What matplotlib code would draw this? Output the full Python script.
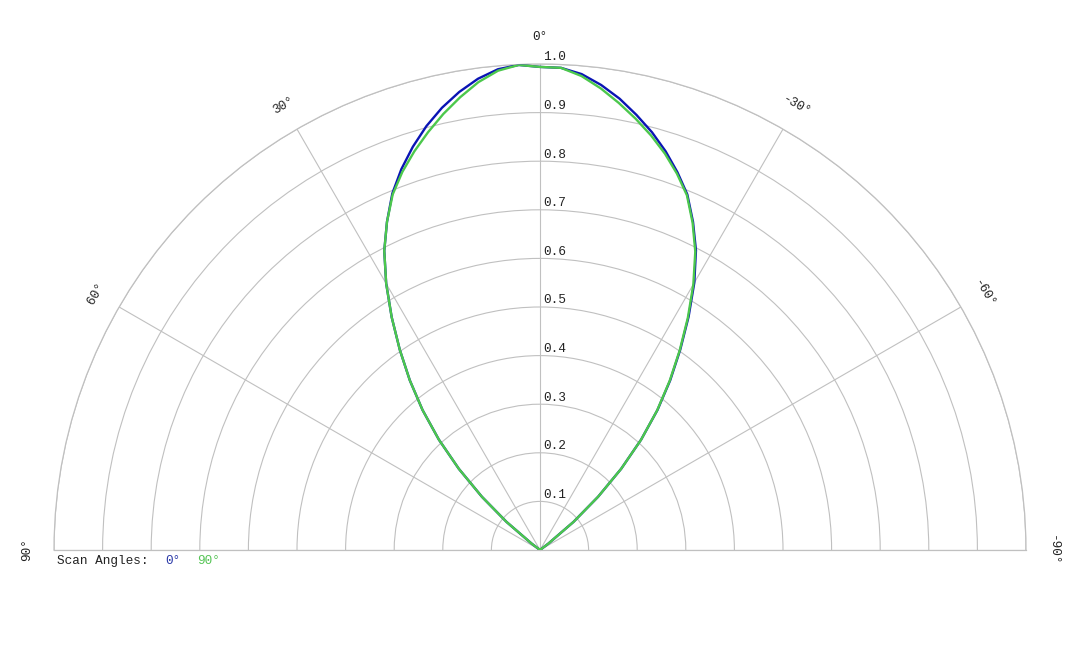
import numpy as np
import matplotlib
matplotlib.use("Agg")
import matplotlib.pyplot as plt

# angle from boresight in degrees (positive = left side)
angles = [-53.5, -52.5, -50, -47.5, -45, -42.5, -40, -37.5, -35, -32.5, -30, -27.5,
          -25, -22.5, -20, -17.5, -15, -12.5, -10, -7.5, -5, -2.5, 0, 2.5, 5, 7.5,
          10, 12.5, 15, 17.5, 20, 22.5, 25, 27.5, 30, 32.5, 35, 37.5, 40, 42.5, 45,
          47.5, 50, 52.5, 53.5]

# scan angle 0 deg
scan0 = [0.0, 0.022, 0.090, 0.162, 0.236, 0.308, 0.376, 0.440, 0.503, 0.569, 0.635,
         0.695, 0.745, 0.792, 0.827, 0.860, 0.890, 0.917, 0.943, 0.965, 0.983, 0.993,
         0.994, 0.999, 0.993, 0.978, 0.957, 0.932, 0.903, 0.870, 0.834, 0.794, 0.745,
         0.694, 0.633, 0.568, 0.503, 0.440, 0.376, 0.308, 0.236, 0.162, 0.090, 0.022,
         0.0]

# scan angle 90 deg
scan90 = [0.0, 0.022, 0.090, 0.162, 0.236, 0.308, 0.375, 0.438, 0.501, 0.566, 0.631,
          0.692, 0.743, 0.790, 0.824, 0.855, 0.883, 0.909, 0.934, 0.958, 0.979, 0.993,
          0.994, 0.999, 0.990, 0.971, 0.946, 0.919, 0.890, 0.860, 0.828, 0.792, 0.745,
          0.694, 0.633, 0.568, 0.503, 0.440, 0.376, 0.308, 0.236, 0.162, 0.090, 0.022,
          0.0]

ring_vals = [0.1, 0.2, 0.3, 0.4, 0.5, 0.6, 0.7, 0.8, 0.9, 1.0]
spoke_vals = [-90, -60, -30, 0, 30, 60, 90]

plt.rcParams['font.family'] = ['Liberation Mono', 'DejaVu Sans Mono']
grid_col = "#c0c0c0"
fs = 9.2

fig = plt.figure(figsize=(10.8, 6.48), dpi=100)
# polar axes keep a square box; the half disc sits in its lower middle
ax = fig.add_axes([54/1080, -145/648, 972/1080, 972/648], projection="polar")
ax.set_theta_zero_location("N")
ax.set_thetamin(-90)
ax.set_thetamax(90)
ax.set_ylim(0, 1.0)

ax.set_thetagrids(spoke_vals, labels=[""] * len(spoke_vals))
ax.set_rgrids(ring_vals, labels=[""] * len(ring_vals))
ax.grid(True, color=grid_col, linewidth=0.8)
for sp in ax.spines.values():
    sp.set_color(grid_col)
    sp.set_linewidth(0.9)
ax.tick_params(length=0)

th = np.deg2rad(angles)
ax.plot(th, scan0, color="#0a14b4", linewidth=1.7, zorder=3, solid_joinstyle="round")
ax.plot(th, scan90, color="#4cc84c", linewidth=1.7, zorder=4, solid_joinstyle="round")

# radial labels along the 0 deg spoke
for r in ring_vals:
    ax.annotate("%.1f" % r, xy=(0, r), xytext=(2.5, 0.5), textcoords="offset points",
                ha="left", va="bottom", fontsize=fs, color="#222222")

# angle labels around the rim
for a in spoke_vals:
    ax.text(np.deg2rad(a), 1.055, "%d°" % a, rotation=a, ha="center", va="center",
            fontsize=fs, color="#222222", rotation_mode="anchor")

fig.text(57/1080, 1 - 561/648, "Scan Angles:", fontsize=fs, va="center", color="#222222")
fig.text(165/1080, 1 - 561/648, "0°", fontsize=fs, va="center", color="#2b3aa8")
fig.text(197/1080, 1 - 561/648, "90°", fontsize=fs, va="center", color="#55c455")

fig.savefig("out.png", dpi=100)
